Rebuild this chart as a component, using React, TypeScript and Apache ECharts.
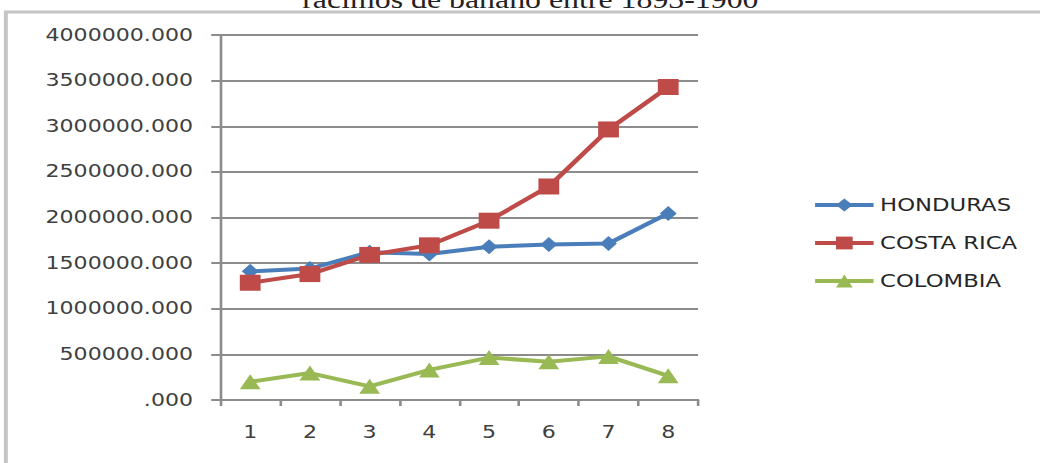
import React, { useEffect, useRef } from "react";
import * as echarts from "echarts";

const categories = ["1", "2", "3", "4", "5", "6", "7", "8"];
const honduras = [1410000, 1440000, 1620000, 1600000, 1680000, 1705000, 1715000, 2045000];
const costaRica = [1285000, 1380000, 1590000, 1695000, 1965000, 2340000, 2965000, 3430000];
const colombia = [200000, 295000, 150000, 330000, 465000, 420000, 478000, 265000];
const seriesNames = ["HONDURAS", "COSTA RICA", "COLOMBIA"];
const titleText = "racimos de banano entre 1893-1900";

const STRETCH = 1.3;
const W = 1040 / STRETCH;
const H = 463;

export default function App() {
  const ref = useRef<HTMLDivElement>(null);
  useEffect(() => {
    if (!ref.current) return;
    const chart = echarts.init(ref.current, null, { renderer: "svg" });
    const font = "DejaVu Sans";
    chart.setOption({
      animation: false,
      backgroundColor: "#ffffff",
      graphic: [
        {
          type: "rect",
          shape: { x: 4.5, y: 12, width: 900, height: 600 },
          style: { fill: "none", stroke: "#c4c4c4", lineWidth: 3 },
          z: 0,
        },
        {
          type: "text",
          x: 408,
          y: 12,
          style: {
            text: titleText,
            font: "normal 24.5px 'Liberation Serif', serif",
            fill: "#222222",
            textAlign: "center",
            textVerticalAlign: "bottom",
          },
        },
      ],
      grid: { left: 169.5, right: W - 537, top: 35, bottom: 63, containLabel: false },
      legend: {
        orient: "vertical",
        left: 620,
        top: 191,
        itemWidth: 45,
        itemHeight: 16,
        itemGap: 20,
        data: seriesNames,
        lineStyle: { width: 4 },
        textStyle: { fontFamily: font, fontSize: 17.5, color: "#262626" },
      },
      xAxis: {
        type: "category",
        data: categories,
        boundaryGap: true,
        axisLine: { lineStyle: { color: "#8c8c8c", width: 2 } },
        axisTick: { show: true, length: 6, lineStyle: { color: "#8c8c8c", width: 2 } },
        axisLabel: { margin: 24, fontFamily: font, fontSize: 17, color: "#404040" },
        splitLine: { show: false },
      },
      yAxis: {
        type: "value",
        min: 0,
        max: 4000000,
        interval: 500000,
        axisLine: { show: true, lineStyle: { color: "#8c8c8c", width: 2 } },
        axisTick: { show: true, length: 7, lineStyle: { color: "#8c8c8c", width: 2 } },
        axisLabel: {
          margin: 21,
          fontFamily: font,
          fontSize: 17,
          color: "#404040",
          formatter: (v: number) => (v === 0 ? ".000" : `${v}.000`),
        },
        splitLine: { show: true, lineStyle: { color: "#8c8c8c", width: 2 } },
      },
      series: [
        {
          name: seriesNames[0],
          type: "line",
          data: honduras,
          symbol: "diamond",
          symbolSize: [13, 15],
          lineStyle: { color: "#4a7ebb", width: 4 },
          itemStyle: { color: "#4a7ebb" },
          z: 3,
        },
        {
          name: seriesNames[1],
          type: "line",
          data: costaRica,
          symbol: "rect",
          symbolSize: 16,
          lineStyle: { color: "#be4b48", width: 4 },
          itemStyle: { color: "#be4b48" },
          z: 4,
        },
        {
          name: seriesNames[2],
          type: "line",
          data: colombia,
          symbol: "triangle",
          symbolSize: [16, 15],
          lineStyle: { color: "#98b954", width: 4 },
          itemStyle: { color: "#98b954" },
          z: 3,
        },
      ],
    });
    return () => chart.dispose();
  }, []);

  return (
    <div style={{ position: "absolute", left: 0, top: 0, width: 1040, height: H, overflow: "hidden", background: "#fff" }}>
      <div
        ref={ref}
        style={{ width: W, height: H, transform: `scaleX(${STRETCH})`, transformOrigin: "0 0" }}
      />
    </div>
  );
}
